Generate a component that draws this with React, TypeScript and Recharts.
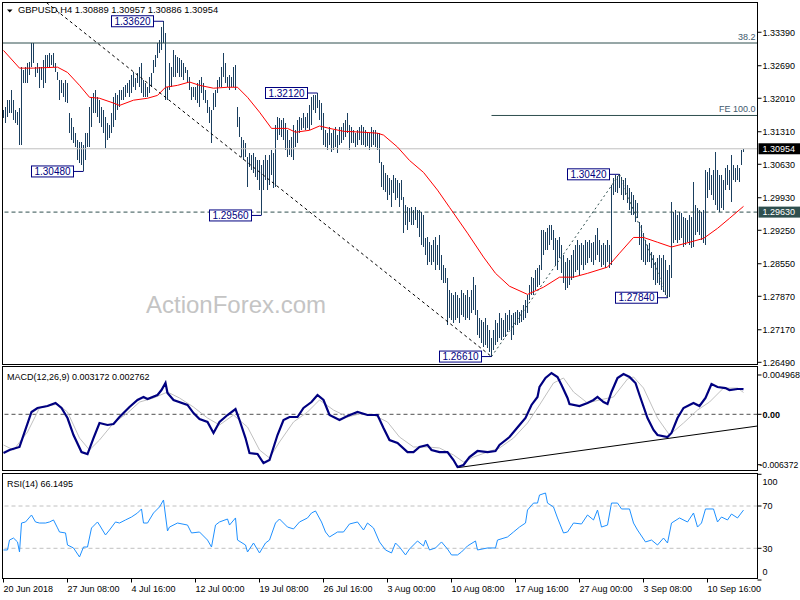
import React from 'react';
import {
  ComposedChart,
  Bar,
  Line,
  XAxis,
  YAxis,
  ReferenceLine,
  ReferenceDot,
} from 'recharts';

const FONT = '"Liberation Sans", Arial, sans-serif';
const BAR_COLOR = '#1B3F5F';
const SLATE = '#2F4F4F';

// GBPUSD H4 bar highs, one per bar starting 20 Jun 2018 00:00
const highs = [
  1.3176, 1.3182, 1.3197, 1.3197, 1.3218, 1.3197, 1.3176, 1.3172, 1.3180, 1.3266,
  1.3260, 1.3266, 1.3274, 1.3276, 1.3316, 1.3316, 1.3266, 1.3274, 1.3266, 1.3266,
  1.3281, 1.3291, 1.3291, 1.3295, 1.3291, 1.3295, 1.3274, 1.3255, 1.3239, 1.3239,
  1.3232, 1.3239, 1.3232, 1.3170, 1.3159, 1.3140, 1.3128, 1.3113, 1.3109, 1.3109,
  1.3103, 1.3128, 1.3128, 1.3182, 1.3203, 1.3212, 1.3218, 1.3203, 1.3197, 1.3182,
  1.3176, 1.3161, 1.3149, 1.3145, 1.3170, 1.3203, 1.3212, 1.3207, 1.3218, 1.3218,
  1.3224, 1.3228, 1.3232, 1.3239, 1.3249, 1.3255, 1.3243, 1.3253, 1.3266, 1.3274,
  1.3239, 1.3232, 1.3224, 1.3245, 1.3253, 1.3281, 1.3291, 1.3316, 1.3322, 1.3350,
  1.3362, 1.3337, 1.3224, 1.3274, 1.3266, 1.3301, 1.3291, 1.3287, 1.3285, 1.3281,
  1.3274, 1.3266, 1.3260, 1.3245, 1.3224, 1.3224, 1.3224, 1.3232, 1.3239, 1.3245,
  1.3232, 1.3218, 1.3197, 1.3182, 1.3176, 1.3212, 1.3218, 1.3239, 1.3245, 1.3266,
  1.3295, 1.3274, 1.3245, 1.3249, 1.3245, 1.3266, 1.3270, 1.3182, 1.3161, 1.3120,
  1.3113, 1.3107, 1.3078, 1.3086, 1.3082, 1.3086, 1.3078, 1.3071, 1.3071, 1.3061,
  1.3071, 1.3082, 1.3071, 1.3082, 1.3092, 1.3086, 1.3145, 1.3161, 1.3159, 1.3155,
  1.3159, 1.3149, 1.3134, 1.3113, 1.3120, 1.3145, 1.3134, 1.3155, 1.3161, 1.3159,
  1.3170, 1.3161, 1.3170, 1.3186, 1.3203, 1.3207, 1.3207, 1.3212, 1.3197, 1.3191,
  1.3170, 1.3134, 1.3128, 1.3140, 1.3128, 1.3134, 1.3140, 1.3124, 1.3140, 1.3140,
  1.3149, 1.3155, 1.3170, 1.3145, 1.3140, 1.3134, 1.3128, 1.3134, 1.3140, 1.3145,
  1.3140, 1.3134, 1.3130, 1.3128, 1.3140, 1.3134, 1.3134, 1.3128, 1.3128, 1.3067,
  1.3061, 1.3044, 1.3040, 1.3034, 1.3030, 1.3040, 1.3034, 1.3030, 1.3023, 1.3030,
  1.2994, 1.2977, 1.2973, 1.2971, 1.2973, 1.2967, 1.2973, 1.2967, 1.2967, 1.2963,
  1.2956, 1.2908, 1.2910, 1.2900, 1.2894, 1.2904, 1.2910, 1.2894, 1.2915, 1.2873,
  1.2852, 1.2846, 1.2825, 1.2800, 1.2793, 1.2789, 1.2796, 1.2789, 1.2783, 1.2800,
  1.2793, 1.2789, 1.2800, 1.2785, 1.2800, 1.2827, 1.2810, 1.2758, 1.2741, 1.2737,
  1.2733, 1.2741, 1.2727, 1.2716, 1.2699, 1.2716, 1.2737, 1.2731, 1.2752, 1.2741,
  1.2737, 1.2752, 1.2747, 1.2758, 1.2747, 1.2752, 1.2754, 1.2758, 1.2754, 1.2758,
  1.2768, 1.2779, 1.2789, 1.2810, 1.2827, 1.2825, 1.2842, 1.2846, 1.2852, 1.2925,
  1.2925, 1.2921, 1.2929, 1.2936, 1.2936, 1.2925, 1.2908, 1.2904, 1.2910, 1.2894,
  1.2873, 1.2858, 1.2867, 1.2862, 1.2873, 1.2883, 1.2894, 1.2904, 1.2894, 1.2898,
  1.2894, 1.2904, 1.2900, 1.2904, 1.2898, 1.2900, 1.2915, 1.2929, 1.2904, 1.2894,
  1.2898, 1.2894, 1.2904, 1.2894, 1.3019, 1.3034, 1.3040, 1.3038, 1.3042, 1.3036,
  1.3030, 1.3034, 1.3019, 1.3013, 1.3005, 1.2998, 1.2988, 1.2982, 1.2942, 1.2936,
  1.2919, 1.2904, 1.2894, 1.2898, 1.2879, 1.2873, 1.2858, 1.2867, 1.2873, 1.2867,
  1.2873, 1.2862, 1.2842, 1.2852, 1.2984, 1.2963, 1.2967, 1.2956, 1.2963, 1.2961,
  1.2952, 1.2950, 1.2946, 1.2956, 1.2952, 1.3025, 1.2977, 1.2971, 1.2967, 1.2963,
  1.2967, 1.3051, 1.3046, 1.3055, 1.3040, 1.3051, 1.3088, 1.3051, 1.3040, 1.3040,
  1.3030, 1.3055, 1.3061, 1.3051, 1.3082, 1.3061, 1.3055, 1.3061, 1.3055, 1.3092,
  1.30957,
];

// bar lows, same order
const lows = [
  1.3159, 1.3149, 1.3161, 1.3170, 1.3170, 1.3155, 1.3149, 1.3145, 1.3103, 1.3103,
  1.3232, 1.3232, 1.3232, 1.3249, 1.3266, 1.3274, 1.3245, 1.3253, 1.3222, 1.3239,
  1.3222, 1.3232, 1.3266, 1.3266, 1.3270, 1.3266, 1.3255, 1.3239, 1.3197, 1.3212,
  1.3203, 1.3193, 1.3191, 1.3128, 1.3113, 1.3107, 1.3099, 1.3071, 1.3065, 1.3061,
  1.3048, 1.3071, 1.3099, 1.3099, 1.3140, 1.3170, 1.3170, 1.3161, 1.3149, 1.3140,
  1.3128, 1.3097, 1.3113, 1.3117, 1.3128, 1.3140, 1.3155, 1.3176, 1.3182, 1.3197,
  1.3197, 1.3203, 1.3212, 1.3203, 1.3212, 1.3224, 1.3218, 1.3232, 1.3224, 1.3212,
  1.3203, 1.3203, 1.3203, 1.3212, 1.3224, 1.3253, 1.3266, 1.3285, 1.3295, 1.3301,
  1.3316, 1.3197, 1.3197, 1.3218, 1.3224, 1.3245, 1.3245, 1.3253, 1.3245, 1.3245,
  1.3239, 1.3253, 1.3232, 1.3218, 1.3197, 1.3203, 1.3197, 1.3191, 1.3182, 1.3212,
  1.3197, 1.3191, 1.3170, 1.3149, 1.3107, 1.3176, 1.3182, 1.3212, 1.3224, 1.3224,
  1.3245, 1.3232, 1.3224, 1.3218, 1.3224, 1.3224, 1.3218, 1.3140, 1.3120, 1.3078,
  1.3071, 1.3078, 1.3015, 1.3057, 1.3051, 1.3044, 1.3036, 1.3030, 1.3009, 1.2956,
  1.3009, 1.3030, 1.3009, 1.3019, 1.3040, 1.3013, 1.3015, 1.3113, 1.3124, 1.3120,
  1.3113, 1.3092, 1.3078, 1.3082, 1.3078, 1.3071, 1.3099, 1.3107, 1.3128, 1.3134,
  1.3138, 1.3134, 1.3138, 1.3134, 1.3145, 1.3176, 1.3170, 1.3180, 1.3155, 1.3134,
  1.3103, 1.3099, 1.3092, 1.3103, 1.3088, 1.3092, 1.3099, 1.3086, 1.3103, 1.3107,
  1.3113, 1.3120, 1.3128, 1.3092, 1.3107, 1.3107, 1.3099, 1.3103, 1.3113, 1.3103,
  1.3103, 1.3099, 1.3101, 1.3092, 1.3099, 1.3103, 1.3099, 1.3092, 1.3065, 1.3015,
  1.3009, 1.3005, 1.2988, 1.2998, 1.2973, 1.3002, 1.2988, 1.2992, 1.2973, 1.2988,
  1.2919, 1.2936, 1.2925, 1.2942, 1.2936, 1.2936, 1.2946, 1.2929, 1.2910, 1.2894,
  1.2890, 1.2873, 1.2852, 1.2858, 1.2852, 1.2858, 1.2842, 1.2852, 1.2842, 1.2821,
  1.2814, 1.2814, 1.2727, 1.2741, 1.2737, 1.2731, 1.2737, 1.2741, 1.2731, 1.2747,
  1.2743, 1.2737, 1.2741, 1.2737, 1.2752, 1.2758, 1.2747, 1.2706, 1.2699, 1.2689,
  1.2681, 1.2685, 1.2678, 1.2670, 1.2661, 1.2674, 1.2685, 1.2691, 1.2699, 1.2695,
  1.2701, 1.2701, 1.2712, 1.2716, 1.2695, 1.2706, 1.2727, 1.2727, 1.2731, 1.2733,
  1.2737, 1.2741, 1.2752, 1.2779, 1.2789, 1.2789, 1.2800, 1.2806, 1.2810, 1.2842,
  1.2873, 1.2883, 1.2883, 1.2894, 1.2904, 1.2883, 1.2852, 1.2842, 1.2867, 1.2835,
  1.2814, 1.2800, 1.2804, 1.2810, 1.2821, 1.2825, 1.2837, 1.2842, 1.2831, 1.2852,
  1.2842, 1.2852, 1.2856, 1.2867, 1.2858, 1.2852, 1.2862, 1.2873, 1.2858, 1.2848,
  1.2852, 1.2846, 1.2858, 1.2846, 1.2852, 1.2998, 1.3005, 1.3002, 1.3013, 1.2998,
  1.2988, 1.2998, 1.2982, 1.2967, 1.2956, 1.2956, 1.2942, 1.2950, 1.2894, 1.2862,
  1.2858, 1.2852, 1.2858, 1.2858, 1.2846, 1.2821, 1.2810, 1.2814, 1.2810, 1.2800,
  1.2796, 1.2789, 1.2784, 1.2786, 1.2825, 1.2898, 1.2904, 1.2898, 1.2904, 1.2908,
  1.2890, 1.2894, 1.2900, 1.2894, 1.2887, 1.2890, 1.2915, 1.2921, 1.2915, 1.2904,
  1.2898, 1.2894, 1.2992, 1.3009, 1.2998, 1.2988, 1.2977, 1.2967, 1.2963, 1.2971,
  1.2967, 1.3009, 1.3019, 1.3009, 1.2984, 1.3030, 1.3025, 1.3030, 1.3025, 1.3061,
  1.30886,
];

const lastOpen = 1.30889;
const lastClose = 1.30954;

// 55-period moving average, sampled at these bars
const maBars = [
  0, 8, 15, 27, 32, 38, 43, 48, 55, 58, 65, 72, 77, 81, 87, 93, 98, 105, 112, 117,
  122, 128, 134, 142, 146, 153, 158, 163, 170, 180, 187, 190, 197, 203, 210, 217, 223, 232, 240, 246,
  253, 262, 270, 278, 285, 292, 302, 308, 315, 320, 327, 334, 343, 350, 357, 363, 370,
];
const maValues = [
  1.3301, 1.3264, 1.3264, 1.3266, 1.3255, 1.3228, 1.3203, 1.3201, 1.3191, 1.3186,
  1.3197, 1.3201, 1.3207, 1.3224, 1.3228, 1.3235, 1.3228, 1.3222, 1.3224, 1.3224,
  1.3203, 1.3172, 1.3138, 1.3138, 1.3130, 1.3134, 1.3143, 1.3138, 1.3132, 1.3130,
  1.3128, 1.3124, 1.3099, 1.3071, 1.3046, 1.3009, 1.2973, 1.2919, 1.2869, 1.2835,
  1.2808, 1.2791, 1.2806, 1.2827, 1.2827, 1.2835, 1.2848, 1.2877, 1.2910, 1.2910,
  1.2900, 1.2890, 1.2900, 1.2908, 1.2929, 1.2950, 1.2975,
];

// MACD(12,26,9) main line
const macdBars = [
  0, 3, 8, 14, 17, 22, 26, 29, 32, 35, 39, 42, 45, 48, 52, 55, 58, 63, 67, 70,
  72, 77, 79, 81, 82, 85, 92, 95, 98, 102, 105, 108, 112, 116, 118, 121, 123, 127, 130, 133,
  137, 140, 143, 147, 150, 154, 157, 160, 163, 168, 172, 177, 182, 187, 190, 193, 197, 202, 205, 208,
  212, 214, 218, 222, 225, 227, 230, 233, 237, 242, 246, 248, 253, 258, 261, 264, 267, 268, 271, 274,
  277, 279, 282, 283, 288, 292, 295, 297, 300, 302, 304, 307, 310, 313, 316, 318, 322, 325, 327, 332,
  334, 337, 340, 343, 345, 348, 351, 354, 357, 361, 363, 367, 369, 370,
];
const macdValues = [
  -0.00489, -0.00451, -0.00413, 0.00029, 0.0008, 0.00105, 0.00143, 0.0008, -0.00047, -0.00262,
  -0.00477, -0.00502, -0.003, -0.0011, -0.00135, -0.00123, -0.00034, 0.00092, 0.00181, 0.00219,
  0.00193, 0.00244, 0.00307, 0.00396, 0.00269, 0.00181, 0.00118, 0.00016, -0.00059, -0.00097,
  -0.00236, -0.00097, -0.00009, 0.00067, -0.00072, -0.003, -0.00489, -0.00502, -0.00616, -0.00578,
  -0.00262, -0.00072, -0.00034, -0.00034, 0.0008, 0.00155, 0.00244, 0.00181, -0.00009, -0.00072,
  -0.00021, 0.00029, -0.00009, -0.00009, -0.00173, -0.00325, -0.00363, -0.00477, -0.00477, -0.00413,
  -0.00388, -0.00451, -0.00477, -0.00477, -0.00578, -0.00666, -0.00641, -0.0054, -0.00464, -0.00477,
  -0.00464, -0.00388, -0.00287, -0.00135, -0.00047, 0.00118, 0.00219, 0.00345, 0.00459, 0.00522,
  0.00472, 0.00371, 0.00206, 0.0013, 0.00105, 0.00143, 0.00181, 0.00219, 0.00155, 0.0013,
  0.00282, 0.00459, 0.00509, 0.00472, 0.00396, 0.00244, -0.00047, -0.00198, -0.00262, -0.00287,
  -0.00236, -0.00047, 0.0008, 0.00118, 0.00143, 0.00105, 0.00206, 0.00383, 0.00345, 0.00332,
  0.00307, 0.0032, 0.0032, 0.003172,
];

// MACD signal line
const signalBars = [
  0, 5, 12, 18, 27, 32, 38, 43, 48, 55, 62, 68, 75, 82, 88, 95, 102, 108, 115, 122,
  128, 133, 138, 145, 152, 158, 165, 172, 178, 185, 192, 198, 205, 212, 218, 225, 230, 235, 242, 248,
  255, 262, 268, 275, 280, 285, 292, 298, 305, 312, 315, 320, 327, 333, 340, 347, 353, 360, 367, 370,
];
const signalValues = [
  -0.00388, -0.00451, -0.00224, 0.0008, 0.0013, 0.00029, -0.003, -0.00451, -0.00325, -0.0011,
  0.00016, 0.00155, 0.00206, 0.00282, 0.00206, 0.00092, -0.00047, -0.00135, -0.00009, -0.00161,
  -0.00451, -0.00552, -0.0035, -0.00097, 0.00029, 0.00181, 0.00054, -0.00034, 0.00004, -0.00009,
  -0.00097, -0.00287, -0.00413, -0.00413, -0.00426, -0.00514, -0.00603, -0.0054, -0.00477, -0.00426,
  -0.003, -0.0011, 0.00118, 0.00396, 0.00459, 0.00282, 0.00143, 0.00181, 0.00219, 0.00446,
  0.00472, 0.00332, -0.00047, -0.00262, -0.0011, 0.00054, 0.00155, 0.00332, 0.00332, 0.002762,
];

// RSI(14)
const rsiBars = [
  0, 2, 3, 5, 7, 8, 9, 11, 14, 16, 18, 21, 23, 25, 27, 28, 31, 32, 35, 38,
  40, 42, 44, 47, 48, 51, 53, 56, 58, 61, 64, 67, 69, 70, 72, 75, 78, 80, 82, 83,
  87, 92, 94, 98, 102, 104, 106, 108, 112, 113, 116, 117, 121, 122, 125, 128, 131, 133, 136, 138,
  142, 145, 148, 152, 154, 156, 159, 161, 163, 167, 170, 173, 177, 180, 182, 185, 188, 191, 194, 196,
  198, 201, 203, 207, 210, 211, 213, 216, 219, 222, 224, 227, 229, 232, 236, 237, 242, 246, 247, 252,
  255, 258, 261, 262, 265, 267, 268, 271, 272, 275, 277, 280, 282, 285, 289, 292, 295, 297, 299, 302,
  304, 307, 309, 313, 315, 317, 321, 324, 327, 330, 332, 334, 338, 342, 345, 347, 349, 351, 355, 357,
  359, 362, 364, 367, 370,
];
const rsiValues = [
  28.4, 28.4, 37.8, 39.7, 36.0, 26.5, 53.9, 54.9, 61.5, 54.9, 53.9, 53.9, 54.9, 56.8, 49.3, 45.4, 44.5, 33.1, 30.3, 21.8,
  31.2, 31.2, 49.2, 54.9, 52.0, 42.6, 47.3, 54.9, 53.9, 56.8, 59.6, 63.4, 67.2, 53.9, 53.9, 63.4, 69.1, 75.7, 46.4, 50.1,
  53.9, 52.0, 44.5, 45.4, 37.8, 31.2, 52.0, 54.9, 57.7, 52.0, 58.7, 37.8, 33.1, 26.5, 35.0, 25.6, 35.0, 37.8, 53.9, 57.7,
  50.1, 48.3, 54.9, 58.7, 63.4, 65.3, 54.9, 45.4, 40.7, 45.4, 45.4, 53.0, 54.9, 47.3, 53.9, 49.2, 36.0, 28.4, 25.6, 35.0,
  31.2, 23.7, 29.3, 36.9, 32.2, 37.8, 28.4, 30.3, 36.0, 29.3, 23.7, 23.7, 26.5, 32.2, 36.9, 28.4, 30.3, 30.3, 37.8, 40.7,
  45.4, 50.1, 53.9, 66.2, 72.8, 72.8, 80.4, 82.3, 72.8, 69.1, 58.7, 44.5, 45.4, 53.9, 53.0, 61.5, 56.8, 66.2, 50.1, 52.0,
  72.8, 72.8, 67.2, 67.2, 53.9, 47.3, 36.0, 37.8, 33.1, 39.7, 35.0, 53.9, 58.7, 54.9, 63.4, 50.1, 53.9, 67.2, 67.2, 54.9,
  59.6, 56.8, 62.4, 58.7, 66.1495,
];

const priceTicks = [1.2649, 1.2717, 1.2787, 1.2855, 1.2925, 1.2993, 1.3063, 1.3131, 1.3201, 1.3269, 1.3339];
const macdTicks = [0.004968, 0, -0.006372];
const rsiTicks = [100, 70, 30, 0];
const rsiLevels = [70, 30];

const timeTickBars = [0, 32, 64, 96, 128, 160, 192, 224, 256, 288, 320, 352];
const timeTickLabels = [
  '20 Jun 2018', '27 Jun 08:00', '4 Jul 16:00', '12 Jul 00:00', '19 Jul 08:00', '26 Jul 16:00',
  '3 Aug 00:00', '10 Aug 08:00', '17 Aug 16:00', '27 Aug 00:00', '3 Sep 08:00', '10 Sep 16:00',
];

// swing highs / lows that carry a price tag
const swingTagBars = [80, 40, 157, 129, 244, 308, 332];
const swingTagSides = ['high', 'low', 'high', 'low', 'low', 'high', 'low'];

// Fibonacci retracement of the fall from 1.4377, and expansion A-B-C
const fiboStartBar = -272;
const fiboStartPrice = 1.4377;
const fiboEndBar = 244;
const retraceRatio = 0.382;
const expansionBars = [244, 308, 332];
const expansionRatio = 1.0;
const supportLevel = 1.2963;

// MACD support trendline
const macdTrendBars = [227, 377];
const macdTrendValues = [-0.00675, -0.00148];

const X_DOMAIN: [number, number] = [-0.5, 377];
const PRICE_DOMAIN: [number, number] = [1.26444, 1.34012];
const MACD_DOMAIN: [number, number] = [-0.007104, 0.006042];
const RSI_DOMAIN: [number, number] = [0, 100];

const bars = highs.map((h, i) => ({ i, range: [lows[i], h] }));
const maPts = maBars.map((b, k) => ({ i: b, v: maValues[k] }));
const macdPts = macdBars.map((b, k) => ({ i: b, v: macdValues[k] }));
const signalPts = signalBars.map((b, k) => ({ i: b, v: signalValues[k] }));
const rsiPts = rsiBars.map((b, k) => ({ i: b, v: rsiValues[k] }));

const fiboEndPrice = lows[fiboEndBar];
const retraceLevel = fiboEndPrice + retraceRatio * (fiboStartPrice - fiboEndPrice);
const feA = lows[expansionBars[0]];
const feB = highs[expansionBars[1]];
const feC = lows[expansionBars[2]];
const feLevel = feC + expansionRatio * (feB - feA);

const HiLoBar = (p: any) => {
  const { x, y, width, height } = p;
  if (x == null || y == null) return null;
  const top = Math.min(y, y + height);
  const h = Math.max(Math.abs(height), 1);
  return (
    <rect
      x={Math.round(x)}
      y={top}
      width={Math.max(1, Math.round(width))}
      height={h}
      fill={BAR_COLOR}
      shapeRendering="crispEdges"
    />
  );
};

const PriceTag = ({ cx, cy, text }: { cx: number; cy: number; text: string }) => {
  const right = cx - 10;
  const w = 42;
  const h = 11;
  return (
    <g>
      <line x1={right} y1={cy} x2={cx} y2={cy} stroke="#000080" strokeWidth={1} />
      <rect x={right - w} y={cy - h / 2} width={w} height={h} fill="#fff" stroke="#000080" strokeWidth={1} />
      <text
        x={right - w / 2}
        y={cy + 3.6}
        textAnchor="middle"
        fontFamily={FONT}
        fontSize={10}
        fill="#000080"
      >
        {text}
      </text>
    </g>
  );
};

const RightBadge = ({ viewBox, text, bg }: any) => {
  if (!viewBox) return null;
  const x = viewBox.x + viewBox.width + 1;
  const y = viewBox.y;
  return (
    <g>
      <rect x={x} y={y - 5.5} width={43} height={11} fill={bg} />
      <text x={x + 4} y={y + 3.3} fontFamily={FONT} fontSize={9} fill="#fff">
        {text}
      </text>
    </g>
  );
};

const LevelCaption = ({ viewBox, text }: any) => {
  if (!viewBox) return null;
  return (
    <text
      x={viewBox.x + viewBox.width - 2}
      y={viewBox.y - 3}
      textAnchor="end"
      fontFamily={FONT}
      fontSize={9}
      fill="#3F5A6E"
    >
      {text}
    </text>
  );
};

const axisText = (x: number, y: number, label: string, weight?: number, size = 9) => (
  <text x={x} y={y} fontFamily={FONT} fontSize={size} fill="#000" fontWeight={weight}>
    {label}
  </text>
);

const layer: React.CSSProperties = { position: 'absolute', left: 0, top: 0 };

function PricePanel() {
  return (
    <ComposedChart
      width={800}
      height={600}
      data={bars}
      margin={{ top: 2.5, right: 0, bottom: 235.5, left: 2.5 }}
    >
      <XAxis dataKey="i" type="number" domain={X_DOMAIN} allowDataOverflow hide />
      <YAxis
        orientation="right"
        type="number"
        domain={PRICE_DOMAIN}
        allowDataOverflow
        ticks={priceTicks}
        interval={0}
        width={42.5}
        tickSize={4}
        tickMargin={1}
        axisLine={false}
        tickLine={{ stroke: '#000' }}
        tick={(p: any) => axisText(p.x, p.y + 3.3, Number(p.payload.value).toFixed(5))}
      />
      <ReferenceLine
        y={retraceLevel}
        stroke={SLATE}
        strokeWidth={1}
        label={(p: any) => <LevelCaption viewBox={p.viewBox} text={(retraceRatio * 100).toFixed(1)} />}
      />
      <ReferenceLine
        segment={[
          { x: expansionBars[0], y: feLevel },
          { x: X_DOMAIN[1], y: feLevel },
        ]}
        stroke={SLATE}
        strokeWidth={1}
        label={(p: any) => (
          <LevelCaption
            viewBox={{ x: 2.5, y: p.viewBox ? p.viewBox.y : 0, width: 755 }}
            text={`FE ${(expansionRatio * 100).toFixed(1)}`}
          />
        )}
      />
      <ReferenceLine
        y={lastClose}
        stroke="#C0C0C0"
        strokeWidth={1}
        label={(p: any) => <RightBadge viewBox={p.viewBox} text={lastClose.toFixed(5)} bg="#000" />}
      />
      <ReferenceLine
        y={supportLevel}
        stroke={SLATE}
        strokeDasharray="4 3"
        strokeWidth={1}
        label={(p: any) => <RightBadge viewBox={p.viewBox} text={supportLevel.toFixed(5)} bg={SLATE} />}
      />
      <ReferenceLine
        segment={[
          { x: fiboStartBar, y: fiboStartPrice },
          { x: fiboEndBar, y: fiboEndPrice },
        ]}
        ifOverflow="hidden"
        stroke="#000"
        strokeDasharray="3 3"
        strokeWidth={1}
      />
      <ReferenceLine
        segment={[
          { x: expansionBars[0], y: feA },
          { x: expansionBars[1], y: feB },
        ]}
        stroke={SLATE}
        strokeDasharray="2 3"
        strokeWidth={1}
      />
      <ReferenceLine
        segment={[
          { x: expansionBars[1], y: feB },
          { x: expansionBars[2], y: feC },
        ]}
        stroke={SLATE}
        strokeDasharray="2 3"
        strokeWidth={1}
      />
      <Bar dataKey="range" barSize={1} isAnimationActive={false} shape={HiLoBar} />
      <Line
        data={maPts}
        dataKey="v"
        type="linear"
        stroke="#FF0000"
        strokeWidth={1}
        dot={false}
        isAnimationActive={false}
      />
      {swingTagBars.map((b, k) => {
        const price = swingTagSides[k] === 'high' ? highs[b] : lows[b];
        return (
          <ReferenceDot
            key={`tag-${b}`}
            x={b}
            y={price}
            r={0}
            shape={(p: any) => <PriceTag cx={p.cx} cy={p.cy} text={price.toFixed(5)} />}
          />
        );
      })}
    </ComposedChart>
  );
}

function MacdPanel() {
  return (
    <ComposedChart
      width={800}
      height={600}
      data={macdPts}
      margin={{ top: 366.5, right: 0, bottom: 129.5, left: 2.5 }}
    >
      <XAxis dataKey="i" type="number" domain={X_DOMAIN} allowDataOverflow hide />
      <YAxis
        orientation="right"
        type="number"
        domain={MACD_DOMAIN}
        allowDataOverflow
        ticks={macdTicks}
        interval={0}
        width={42.5}
        tickSize={4}
        tickMargin={1}
        axisLine={false}
        tickLine={{ stroke: '#000' }}
        tick={(p: any) => {
          const v = Number(p.payload.value);
          if (v === 0) return axisText(p.x, p.y + 3.3, '0.00', 700);
          if (v < 0) return axisText(p.x - 3, p.y + 3.3, v.toFixed(6), undefined, 8.6);
          return axisText(p.x, p.y + 3.3, v.toFixed(6));
        }}
      />
      <ReferenceLine y={0} stroke="#505050" strokeDasharray="4 3" strokeWidth={1} />
      <ReferenceLine
        segment={[
          { x: macdTrendBars[0], y: macdTrendValues[0] },
          { x: macdTrendBars[1], y: macdTrendValues[1] },
        ]}
        stroke="#000"
        strokeWidth={1}
      />
      <Line
        data={signalPts}
        dataKey="v"
        type="linear"
        stroke="#C0C0C0"
        strokeWidth={1}
        dot={false}
        isAnimationActive={false}
      />
      <Line
        dataKey="v"
        type="linear"
        stroke="#000080"
        strokeWidth={2.2}
        dot={false}
        isAnimationActive={false}
      />
    </ComposedChart>
  );
}

function RsiPanel() {
  return (
    <ComposedChart
      width={800}
      height={600}
      data={rsiPts}
      margin={{ top: 474.3, right: 0, bottom: 0, left: 2.5 }}
    >
      <XAxis
        dataKey="i"
        type="number"
        domain={X_DOMAIN}
        allowDataOverflow
        ticks={timeTickBars}
        interval={0}
        height={20}
        axisLine={false}
        tickLine={false}
        tick={(p: any) => {
          const idx = timeTickBars.indexOf(Number(p.payload.value));
          return (
            <g>
              <line x1={p.x} x2={p.x} y1={578.5} y2={582.5} stroke="#000" />
              {axisText(p.x, 591.5, timeTickLabels[idx] ?? '')}
            </g>
          );
        }}
      />
      <YAxis
        orientation="right"
        type="number"
        domain={RSI_DOMAIN}
        allowDataOverflow
        ticks={rsiTicks}
        interval={0}
        width={42.5}
        tickSize={4}
        tickMargin={1}
        axisLine={false}
        tickLine={{ stroke: '#000' }}
        tick={(p: any) => {
          const v = Number(p.payload.value);
          const shift = v === 100 ? 7.4 : v === 0 ? -8.3 : 0;
          return axisText(p.x, p.y + 3.3 + shift, String(v));
        }}
      />
      {rsiLevels.map((lv) => (
        <ReferenceLine key={lv} y={lv} stroke="#C0C0C0" strokeDasharray="4 3" strokeWidth={1} />
      ))}
      <Line
        dataKey="v"
        type="linear"
        stroke="#1E90FF"
        strokeWidth={1}
        dot={false}
        isAnimationActive={false}
      />
    </ComposedChart>
  );
}

export default function App() {
  const title = `GBPUSD,H4 ${lastOpen.toFixed(5)} ${highs[highs.length - 1].toFixed(5)} ${lows[
    lows.length - 1
  ].toFixed(5)} ${lastClose.toFixed(5)}`;
  const macdCaption = `MACD(12,26,9) ${macdValues[macdValues.length - 1].toFixed(6)} ${signalValues[
    signalValues.length - 1
  ].toFixed(6)}`;
  const rsiCaption = `RSI(14) ${rsiValues[rsiValues.length - 1].toFixed(4)}`;

  return (
    <div
      style={{
        position: 'absolute',
        left: 0,
        top: 0,
        width: 800,
        height: 600,
        background: '#fff',
        overflow: 'hidden',
      }}
    >
      <svg width={800} height={600} style={layer}>
        <text x={146} y={313} fontFamily={FONT} fontSize={24} fill="#C4C4C4">
          ActionForex.com
        </text>
      </svg>
      <div style={layer}>
        <PricePanel />
      </div>
      <div style={layer}>
        <MacdPanel />
      </div>
      <div style={layer}>
        <RsiPanel />
      </div>
      <svg width={800} height={600} style={{ ...layer, pointerEvents: 'none' }}>
        <g fill="none" stroke="#000" strokeWidth={1} shapeRendering="crispEdges">
          <rect x={2.5} y={2.5} width={755} height={362} />
          <rect x={2.5} y={366.5} width={755} height={104} />
          <rect x={2.5} y={473.5} width={755} height={105} />
        </g>
        <polygon points="7,9.5 12.5,9.5 9.75,12.5" fill="#000" />
        <text x={18} y={13.3} fontFamily={FONT} fontSize={9.4} fill="#000">
          {title}
        </text>
        <text x={7} y={380} fontFamily={FONT} fontSize={9} fill="#000">
          {macdCaption}
        </text>
        <text x={7} y={486.5} fontFamily={FONT} fontSize={9} fill="#000">
          {rsiCaption}
        </text>
      </svg>
    </div>
  );
}
